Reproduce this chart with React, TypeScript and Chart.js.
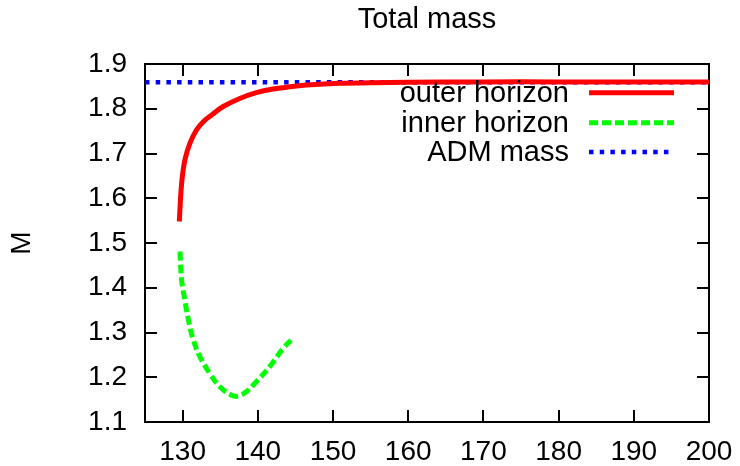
import React, { useEffect, useRef } from "react";
import { Chart, registerables } from "chart.js";

Chart.register(...registerables);

// ---- data ----
const outerX = [129.56, 129.87, 130.31, 130.98, 131.86, 132.75, 133.86, 135.4, 137.6, 139.8, 142.0, 144.3, 146.5, 150.9, 155.0, 160.0, 170.0, 180.0, 190.0, 200.0];
const outerY = [1.548, 1.633, 1.686, 1.723, 1.753, 1.771, 1.786, 1.805, 1.823, 1.836, 1.844, 1.849, 1.853, 1.857, 1.858, 1.859, 1.860, 1.860, 1.860, 1.860];

const innerX = [129.65, 129.87, 130.3, 130.75, 131.4, 132.3, 133.6, 134.96, 136.5, 137.4, 138.5, 139.8, 141.6, 143.4, 144.8];
const innerY = [1.481, 1.417, 1.372, 1.33, 1.285, 1.246, 1.209, 1.179, 1.160, 1.158, 1.168, 1.190, 1.224, 1.265, 1.289];

const admX = [125, 200];
const admY = [1.859, 1.859];

const xTicks = [130, 140, 150, 160, 170, 180, 190, 200];
const yTicks = [1.1, 1.2, 1.3, 1.4, 1.5, 1.6, 1.7, 1.8, 1.9];

const seriesNames = ["outer horizon", "inner horizon", "ADM mass"];
const titleText = "Total mass";
const yLabel = "M";

const FONT = '"Liberation Sans", Arial, Helvetica, sans-serif';

function zip(xs: number[], ys: number[]) {
  return xs.map((x, i) => ({ x, y: ys[i] }));
}

const framePlugin = {
  id: "frameTicks",
  beforeDatasetsDraw(chart: any) {
    const { ctx, chartArea } = chart;
    const { left, right, top, bottom } = chartArea;
    const xs = chart.scales.x;
    const ys = chart.scales.y;
    const L = 12;
    ctx.save();
    ctx.strokeStyle = "#000";
    ctx.lineWidth = 2;
    ctx.beginPath();
    for (const t of xTicks) {
      const px = Math.round(xs.getPixelForValue(t));
      ctx.moveTo(px, bottom);
      ctx.lineTo(px, bottom - L);
      ctx.moveTo(px, top);
      ctx.lineTo(px, top + L);
    }
    for (const t of yTicks) {
      const py = Math.round(ys.getPixelForValue(t));
      ctx.moveTo(left, py);
      ctx.lineTo(left + L, py);
      ctx.moveTo(right, py);
      ctx.lineTo(right - L, py);
    }
    ctx.stroke();
    ctx.strokeRect(left, top, right - left, bottom - top);
    ctx.restore();
  },
};

const legendPlugin = {
  id: "gnuLegend",
  afterDatasetsDraw(chart: any) {
    const { ctx, chartArea } = chart;
    const { right, top } = chartArea;
    const rows = [28.7, 58.7, 88];
    ctx.save();
    ctx.font = `29px ${FONT}`;
    ctx.textAlign = "right";
    ctx.textBaseline = "middle";
    chart.data.datasets.forEach((ds: any, i: number) => {
      const y = top + rows[i];
      ctx.fillStyle = "#000";
      ctx.fillText(ds.label, right - 140, y + 1);
      ctx.strokeStyle = ds.borderColor;
      ctx.lineWidth = ds.borderWidth;
      ctx.lineCap = "butt";
      ctx.setLineDash(ds.borderDash || []);
      ctx.beginPath();
      ctx.moveTo(right - 120, y);
      ctx.lineTo(right - 35, y);
      ctx.stroke();
      ctx.setLineDash([]);
    });
    ctx.restore();
  },
};

export default function App() {
  const ref = useRef<HTMLCanvasElement | null>(null);

  useEffect(() => {
    if (!ref.current) return;
    const chart = new Chart(ref.current, {
      type: "line",
      data: {
        datasets: [
          {
            label: seriesNames[0],
            data: zip(outerX, outerY),
            borderColor: "#ff0000",
            borderWidth: 5,
            pointRadius: 0,
            tension: 0.4,
            fill: false,
          },
          {
            label: seriesNames[1],
            data: zip(innerX, innerY),
            borderColor: "#00ff00",
            borderWidth: 5,
            borderDash: [9, 4],
            pointRadius: 0,
            tension: 0.4,
            fill: false,
          },
          {
            label: seriesNames[2],
            data: zip(admX, admY),
            borderColor: "#0000ff",
            borderWidth: 4.5,
            borderDash: [4.5, 6.2],
            pointRadius: 0,
            fill: false,
          },
        ],
      } as any,
      options: {
        responsive: false,
        animation: false,
        events: [],
        layout: { padding: { left: 0, right: 31, top: 0, bottom: 0 } },
        plugins: {
          legend: { display: false },
          tooltip: { enabled: false },
          title: {
            display: true,
            text: titleText,
            fullSize: false,
            color: "#000",
            font: { family: FONT, size: 29, weight: "normal", lineHeight: 1.2 },
            padding: { top: 3, bottom: 26.2 },
          },
        },
        scales: {
          x: {
            type: "linear",
            min: 125,
            max: 200,
            grid: { display: false, drawTicks: false },
            border: { display: false },
            afterBuildTicks: (s: any) => {
              s.ticks = xTicks.map((v) => ({ value: v }));
            },
            afterFit: (s: any) => {
              s.height = 44;
              s.paddingLeft = 0;
              s.paddingRight = 0;
            },
            ticks: {
              color: "#000",
              padding: 13,
              autoSkip: false,
              maxRotation: 0,
              font: { family: FONT, size: 28, lineHeight: 1.2 },
              callback: (v: any) => String(Math.round(Number(v))),
            },
          },
          y: {
            type: "linear",
            min: 1.1,
            max: 1.9,
            grid: { display: false, drawTicks: false },
            border: { display: false },
            afterBuildTicks: (s: any) => {
              s.ticks = yTicks.map((v) => ({ value: v }));
            },
            afterFit: (s: any) => {
              s.width = 145;
              s.paddingTop = 0;
              s.paddingBottom = 0;
            },
            ticks: {
              color: "#000",
              padding: 18,
              autoSkip: false,
              font: { family: FONT, size: 28, lineHeight: 1.2 },
              callback: (v: any) => Number(v).toFixed(1),
            },
            title: {
              display: true,
              text: yLabel,
              color: "#000",
              font: { family: FONT, size: 28, lineHeight: 1.2 },
              padding: { top: 5, bottom: 0 },
            },
          },
        },
      } as any,
      plugins: [framePlugin, legendPlugin],
    });
    return () => chart.destroy();
  }, []);

  return (
    <div style={{ position: "absolute", left: 0, top: 0, width: 740, height: 466, background: "#fff" }}>
      <canvas ref={ref} width={740} height={466} style={{ display: "block" }} />
    </div>
  );
}
